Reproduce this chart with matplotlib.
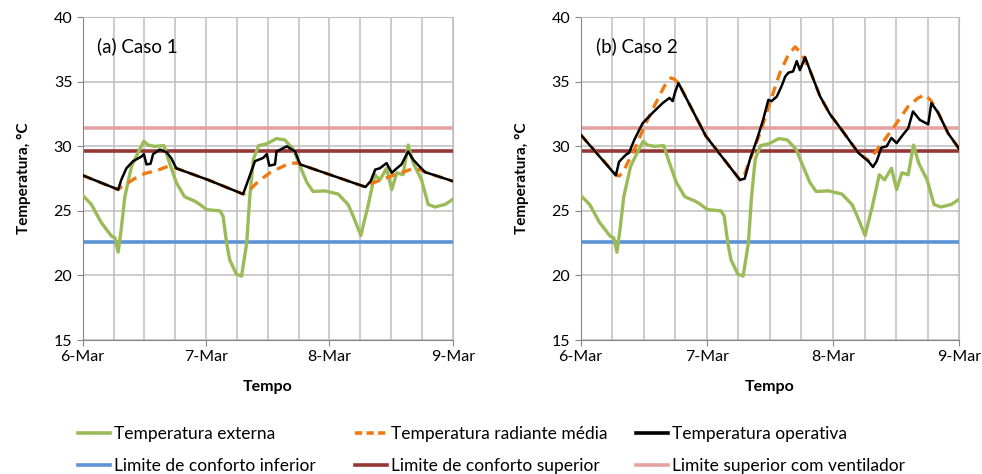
import matplotlib
matplotlib.use("Agg")
from matplotlib import pyplot as plt
from matplotlib.lines import Line2D

plt.rcParams['font.family'] = ['Lato', 'DejaVu Sans']

"""Dados lidos do gráfico (tempo em horas a partir de 6-Mar 00:00)"""
day_labels = ['6-Mar', '7-Mar', '8-Mar', '9-Mar']

t_ext = [0, 1.7, 3.6, 5.6, 6.3, 6.9, 7.5, 8.2, 9.5, 10.75, 11.9, 12.7, 14, 15.8, 16.9,
         18.2, 19.8, 21.8, 22.8, 24.1, 26.7, 27.3, 28, 28.6, 29.9, 30.9, 31.9, 32.5, 33.2,
         34.2, 35.8, 37.7, 39.3, 41, 42.3, 43.6, 44.8, 47.1, 49.7, 51.6, 52.6, 54.1, 55.5,
         56.8, 57.8, 59.1, 60.1, 61.1, 62.3, 63.3, 64.3, 65.9, 67.2, 68.5, 70.5, 72]
temp_ext = [26.2, 25.5, 24.1, 23.05, 22.9, 21.8, 23.6, 26.1, 28.45, 29.5, 30.4, 30.1, 30.0,
            30.05, 28.7, 27.2, 26.1, 25.75, 25.5, 25.1, 25.0, 24.6, 22.5, 21.2, 20.1, 19.95,
            22.5, 26.1, 29.0, 30.05, 30.2, 30.6, 30.5, 29.75, 28.45, 27.2, 26.5, 26.55, 26.3,
            25.5, 24.6, 23.1, 25.4, 27.8, 27.4, 28.3, 26.65, 27.95, 27.8, 30.1, 28.7, 27.4,
            25.5, 25.3, 25.5, 25.9]

# Caso 1
t_op1 = [0, 6.9, 7.5, 8.5, 9.8, 11.4, 11.9, 12.4, 13.2, 13.7, 15, 16.3, 17.2, 18.2, 24.4,
         31.2, 32.2, 33.5, 35.1, 35.8, 36.3, 37.4, 37.7, 39.7, 41.3, 42.3, 48.1, 55, 56,
         56.9, 57.8, 59.1, 60.1, 61.1, 62, 63.3, 64.3, 65.6, 66.6, 72]
temp_op1 = [27.75, 26.65, 27.4, 28.3, 28.85, 29.2, 29.4, 28.6, 28.65, 29.4, 29.75, 29.55,
            29.1, 28.3, 27.4, 26.3, 27.4, 28.85, 29.1, 29.4, 28.5, 28.6, 29.6, 30.0, 29.6,
            28.6, 27.8, 26.85, 27.3, 28.2, 28.3, 28.7, 27.95, 28.3, 28.6, 29.6, 28.95, 28.4,
            28.0, 27.3]
t_rad1 = [0, 6.9, 7.5, 10.1, 12.1, 14.6, 16.9, 17.9, 18.2, 24.4, 31.2, 31.9, 34.2, 36.4,
          38.7, 40.3, 41.9, 42.3, 48.1, 55, 55.5, 58.1, 60.7, 62.7, 64, 65.6, 66.6, 72]
temp_rad1 = [27.75, 26.65, 26.85, 27.5, 27.9, 28.15, 28.5, 28.35, 28.3, 27.4, 26.3, 26.4,
             27.3, 27.95, 28.4, 28.7, 28.7, 28.6, 27.8, 26.85, 27.05, 27.4, 27.8, 28.05,
             28.25, 28.2, 28.0, 27.3]

# Caso 2
t_op2 = [0, 6.7, 7.3, 8.6, 9.2, 10.2, 11.8, 13.7, 15.6, 16.9, 17.5, 18.0, 18.6, 23.8,
         30.3, 31.2, 32.2, 33.5, 34.7, 35.7, 36.3, 37.3, 38.2, 38.9, 39.5, 40.4, 41.1,
         41.7, 42.7, 43.6, 45.5, 47.4, 49.6, 52.8, 54.7, 55.6, 56.3, 57.2, 58.2, 59.1,
         60.1, 61.3, 62.3, 63.2, 64.5, 66.1, 66.7, 68, 69.9, 72]
temp_op2 = [30.9, 27.75, 28.8, 29.35, 29.5, 30.5, 31.8, 32.6, 33.35, 33.75, 33.5, 34.25,
            34.9, 30.8, 27.4, 27.5, 29.0, 30.5, 32.05, 33.6, 33.5, 33.85, 34.65, 35.4, 35.7,
            35.8, 36.6, 35.9, 36.9, 35.9, 33.9, 32.5, 31.3, 29.5, 28.85, 28.4, 28.85, 29.9,
            30.0, 30.65, 30.25, 30.9, 31.4, 32.7, 32.05, 31.7, 33.35, 32.6, 31.0, 29.8]
t_rad2 = [0, 6.7, 7.3, 8.0, 10.5, 12.4, 14.3, 15.9, 17.2, 17.8, 18.6, 23.8, 30.3, 31.0,
          31.6, 34.1, 36.3, 37.9, 39.5, 40.8, 42.0, 43.0, 43.6, 45.5, 47.4, 49.6, 52.8,
          54.7, 55.2, 57.8, 60.1, 62.3, 64.2, 65.5, 66.7, 68, 69.9, 72]
temp_rad2 = [30.9, 27.8, 27.7, 27.95, 30.0, 31.8, 33.35, 34.65, 35.3, 35.2, 34.9, 30.8,
             27.4, 27.6, 28.3, 31.0, 33.75, 35.7, 37.1, 37.7, 37.2, 36.3, 35.9, 33.9, 32.5,
             31.3, 29.5, 28.9, 29.1, 30.5, 31.8, 33.1, 33.75, 34.0, 33.5, 32.6, 31.0, 29.8]

lim_inf = 22.6
lim_sup = 29.6
lim_vent = 31.4

labels = ['Temperatura externa', 'Temperatura radiante média', 'Temperatura operativa',
          'Limite de conforto inferior', 'Limite de conforto superior',
          'Limite superior com ventilador']

c_ext = '#9BBB59'
c_rad = '#F07A12'
c_op = 'black'
c_inf = '#5B93D6'
c_sup = '#953735'
c_vent = '#E3A3A3'

"""绘制"""
fig = plt.figure(figsize=(9.82, 4.74), dpi=100)
ax1 = fig.add_axes([0.0842, 0.2827, 0.377, 0.681])
ax2 = fig.add_axes([0.5913, 0.2827, 0.3855, 0.681])

cases = [(ax1, '(a) Caso 1', t_op1, temp_op1, t_rad1, temp_rad1),
         (ax2, '(b) Caso 2', t_op2, temp_op2, t_rad2, temp_rad2)]

for ax, title, t_op, temp_op, t_rad, temp_rad in cases:
	ax.axhline(lim_inf, color=c_inf, linewidth=2.6, zorder=2)
	ax.axhline(lim_vent, color=c_vent, linewidth=2.6, zorder=2)
	ax.axhline(lim_sup, color=c_sup, linewidth=2.6, zorder=2)
	ax.plot(t_ext, temp_ext, color=c_ext, linewidth=2.4, zorder=3)
	ax.plot(t_rad, temp_rad, color=c_rad, linewidth=2.4, linestyle=(0, (3, 2)), zorder=4)
	ax.plot(t_op, temp_op, color=c_op, linewidth=1.8, zorder=5)

	ax.set_xlim(0, 72)
	ax.set_ylim(15, 40)
	ax.set_xticks([0, 24, 48, 72])
	ax.set_xticklabels(day_labels)
	ax.set_xticks(range(0, 73, 6), minor=True)
	ax.set_yticks(range(15, 41, 5))
	ax.grid(True, which='both', color='#BFBFBF', linewidth=1.1, zorder=0)
	ax.set_axisbelow(True)
	for s in ax.spines.values():
		s.set_color('#BFBFBF')
	ax.spines['left'].set_color('#868686')
	ax.spines['bottom'].set_color('#868686')
	ax.tick_params(axis='both', which='major', labelsize=11.5, length=4,
	               color='#868686', direction='out')
	ax.tick_params(axis='x', which='minor', length=0)
	ax.set_xlabel('Tempo', fontsize=11.5, fontweight='bold', labelpad=11)
	ax.set_ylabel('Temperatura, °C', fontsize=11, fontweight='bold', labelpad=16)
	ax.text(0.04, 0.91, title, transform=ax.transAxes, fontsize=13.5, va='center')

"""图例: 三列, 每列两项"""
h_ext = Line2D([], [], color=c_ext, linewidth=2.6)
h_rad = Line2D([], [], color=c_rad, linewidth=2.6, linestyle=(0, (2, 1.2)))
h_op = Line2D([], [], color=c_op, linewidth=2.6)
h_inf = Line2D([], [], color=c_inf, linewidth=2.6)
h_sup = Line2D([], [], color=c_sup, linewidth=2.6)
h_vent = Line2D([], [], color=c_vent, linewidth=2.6)

columns = [([h_ext, h_inf], [labels[0], labels[3]], 78),
           ([h_rad, h_sup], [labels[1], labels[4]], 355),
           ([h_op, h_vent], [labels[2], labels[5]], 636)]
for hs, ls, x0 in columns:
	leg = fig.legend(hs, ls, loc='upper left', bbox_to_anchor=(x0 / 982, 0.101),
	                 frameon=False, fontsize=12.5, handlelength=1.85, handletextpad=0.2,
	                 labelspacing=0.9, borderpad=0.0, borderaxespad=0.0)

fig.savefig('out.png', dpi=100)
